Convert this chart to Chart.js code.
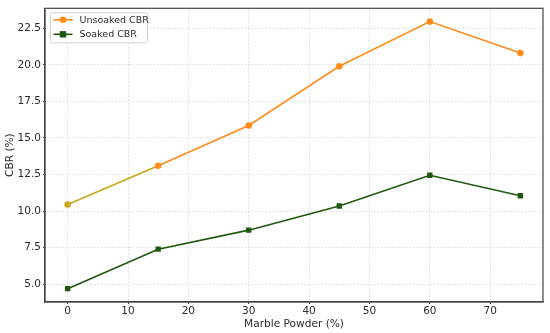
<!DOCTYPE html>
<html>
<head>
<meta charset="utf-8">
<script src="https://cdn.jsdelivr.net/npm/chart.js@4.4.1/dist/chart.umd.min.js"></script>
<style>
  html, body { margin: 0; padding: 0; background: #fff; }
  #wrap { width: 550px; height: 333px; }
</style>
</head>
<body>
<div id="wrap"><canvas id="cbr-chart"></canvas></div>
<script>
// Data
const marblePowder = [0, 15, 30, 45, 60, 75];
const unsoakedCBR = [10.45, 13.1, 15.85, 19.9, 22.95, 20.8];
const soakedCBR = [4.7, 7.4, 8.7, 10.35, 12.45, 11.05];
const xTicks = [0, 10, 20, 30, 40, 50, 60, 70];
const yTicks = [5, 7.5, 10, 12.5, 15, 17.5, 20, 22.5];

const orange = "#ff8c1a";
const gold = "#c9a818";
const green = "#1f580d";
const textColor = "#2a2a2a";
const font = "DejaVu Sans";

const toPoints = (ys) => ys.map((y, i) => ({ x: marblePowder[i], y: y }));

// Frame + legend
const framePlugin = {
  id: "frame",
  afterDraw(chart) {
    const { ctx, chartArea } = chart;
    ctx.save();
    ctx.strokeStyle = "#444";
    ctx.lineWidth = 1.2;
    ctx.strokeRect(chartArea.left, chartArea.top, chartArea.right - chartArea.left, chartArea.bottom - chartArea.top);

    // legend
    const bx = chartArea.left + 5.5, by = chartArea.top + 4.5, bw = 97, bh = 30;
    ctx.fillStyle = "rgba(255,255,255,0.85)";
    ctx.strokeStyle = "#d0d0d0";
    ctx.lineWidth = 1;
    ctx.beginPath();
    ctx.roundRect(bx, by, bw, bh, 2);
    ctx.fill();
    ctx.stroke();

    chart.data.datasets.forEach((ds, i) => {
      const y = by + 7 + i * 14.5;
      ctx.strokeStyle = ds.legendColor;
      ctx.lineWidth = 1.6;
      ctx.beginPath();
      ctx.moveTo(bx + 3, y);
      ctx.lineTo(bx + 22, y);
      ctx.stroke();
      ctx.fillStyle = ds.legendColor;
      if (ds.pointStyle === "rect") {
        ctx.fillRect(bx + 12.5 - 3.2, y - 3.2, 6.4, 6.4);
      } else {
        ctx.beginPath();
        ctx.arc(bx + 12.5, y, 3.3, 0, Math.PI * 2);
        ctx.fill();
      }
      ctx.fillStyle = textColor;
      ctx.font = `9.5px "${font}"`;
      ctx.textBaseline = "middle";
      ctx.fillText(ds.label, bx + 29, y + 0.5);
    });
    ctx.restore();
  },
};

const cbrChart = new Chart(document.querySelector("#cbr-chart"), {
  type: "line",
  data: {
    datasets: [
      {
        label: "Unsoaked CBR",
        data: toPoints(unsoakedCBR),
        borderColor: orange,
        legendColor: orange,
        segment: {
          borderColor: (c) => (c.p0DataIndex === 0 ? gold : orange),
        },
        pointBackgroundColor: unsoakedCBR.map((v, i) => (i === 0 ? gold : orange)),
        pointBorderWidth: 0,
        pointRadius: 3.3,
        pointStyle: "circle",
        borderWidth: 1.6,
      },
      {
        label: "Soaked CBR",
        data: toPoints(soakedCBR),
        borderColor: green,
        legendColor: green,
        pointBackgroundColor: green,
        pointBorderWidth: 0,
        pointRadius: 3.8,
        pointStyle: "rect",
        borderWidth: 1.6,
      },
    ],
  },
  options: {
    responsive: true,
    maintainAspectRatio: false,
    animation: false,
    layout: { padding: { top: 6, right: 7, left: 0, bottom: 0 } },
    plugins: {
      legend: { display: false },
      tooltip: { enabled: false },
    },
    scales: {
      x: {
        type: "linear",
        min: -3.75,
        max: 78.75,
        afterBuildTicks: (scale) => {
          scale.ticks = xTicks.map((v) => ({ value: v }));
        },
        afterFit: (scale) => {
          scale.height = 31;
        },
        ticks: {
          color: textColor,
          font: { family: font, size: 10.5 },
          padding: 1,
          maxRotation: 0,
          callback: (v) => String(v),
        },
        grid: {
          color: "#d2d2d2",
          lineWidth: 0.8,
          tickLength: 2,
          tickColor: "#444",
          tickWidth: 1,
        },
        border: { display: true, color: "#444", width: 1.2, dash: [1.5, 2] },
        title: {
          display: true,
          text: "Marble Powder (%)",
          color: textColor,
          font: { family: font, size: 10.6 },
          padding: { top: 0, bottom: 2 },
        },
      },
      y: {
        type: "linear",
        min: 3.79,
        max: 23.86,
        afterBuildTicks: (scale) => {
          scale.ticks = yTicks.map((v) => ({ value: v }));
        },
        afterFit: (scale) => {
          scale.width = 45;
        },
        ticks: {
          color: textColor,
          font: { family: font, size: 10.5 },
          padding: 2,
          callback: (v) => Number(v).toFixed(1),
        },
        grid: {
          color: "#d2d2d2",
          lineWidth: 0.8,
          tickLength: 2,
          tickColor: "#444",
          tickWidth: 1,
        },
        border: { display: true, color: "#444", width: 1.2, dash: [1.5, 2] },
        title: {
          display: true,
          text: "CBR (%)",
          color: textColor,
          font: { family: font, size: 10.6 },
          padding: { top: 4, bottom: 0 },
        },
      },
    },
  },
  plugins: [framePlugin],
});
</script>
</body>
</html>
